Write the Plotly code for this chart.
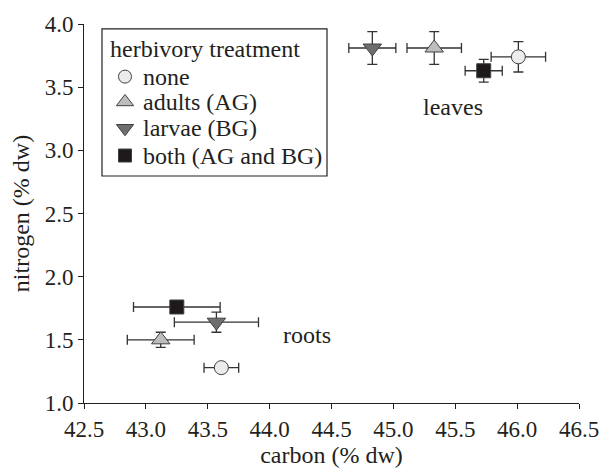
import plotly.graph_objects as go

# data: each treatment has [leaves, roots]
treatments = ["none", "adults (AG)", "larvae (BG)", "both (AG and BG)"]
carbon = {
    "none": [46.01, 43.61],
    "adults (AG)": [45.33, 43.12],
    "larvae (BG)": [44.83, 43.57],
    "both (AG and BG)": [45.73, 43.25],
}
carbon_err = {
    "none": [0.22, 0.14],
    "adults (AG)": [0.22, 0.27],
    "larvae (BG)": [0.19, 0.34],
    "both (AG and BG)": [0.15, 0.35],
}
nitrogen = {
    "none": [3.74, 1.28],
    "adults (AG)": [3.81, 1.50],
    "larvae (BG)": [3.81, 1.64],
    "both (AG and BG)": [3.63, 1.76],
}
nitrogen_err = {
    "none": [0.12, 0.02],
    "adults (AG)": [0.13, 0.06],
    "larvae (BG)": [0.13, 0.08],
    "both (AG and BG)": [0.09, 0.02],
}
x_ticks = [42.5, 43.0, 43.5, 44.0, 44.5, 45.0, 45.5, 46.0, 46.5]
y_ticks = [1.0, 1.5, 2.0, 2.5, 3.0, 3.5, 4.0]
legend_title = "herbivory treatment"

styles = {
    "none": dict(symbol="circle", color="#ececec", size=14),
    "adults (AG)": dict(symbol="triangle-up", color="#bdbdbd", size=16),
    "larvae (BG)": dict(symbol="triangle-down", color="#6e6e6e", size=16),
    "both (AG and BG)": dict(symbol="square", color="#1e1a1b", size=14),
}

FONT = "Liberation Serif"
TXT = "#231f20"
ERR = "#333333"
FS = 24

# plot area in pixels
L, R, T, B = 84, 579, 20, 409

fig = go.Figure()
for t in treatments:
    s = styles[t]
    fig.add_trace(go.Scatter(
        x=carbon[t], y=nitrogen[t], mode="markers", name=t, showlegend=False,
        marker=dict(symbol=s["symbol"], size=s["size"], color=s["color"], opacity=1,
                    line=dict(color="#404040", width=1)),
        error_x=dict(type="data", array=carbon_err[t], color=ERR, thickness=1.3, width=5),
        error_y=dict(type="data", array=nitrogen_err[t], color=ERR, thickness=1.3, width=5),
    ))

# manual legend on a pixel-scaled overlay axis
leg_left, leg_top, leg_right, leg_bottom = 102, 25, 327, 176
sym_x, txt_x = 125, 141
item_y = [74, 100, 127, 155]
fig.add_shape(type="rect", xref="x2", yref="y2", x0=leg_left, x1=leg_right,
              y0=leg_top, y1=leg_bottom, line=dict(color=TXT, width=1.2),
              fillcolor="rgba(0,0,0,0)", layer="below")
for t, yy in zip(treatments, item_y):
    s = styles[t]
    fig.add_trace(go.Scatter(
        x=[sym_x], y=[yy], xaxis="x2", yaxis="y2",
        mode="markers", showlegend=False, hoverinfo="skip", opacity=1,
        marker=dict(symbol=s["symbol"], size=s["size"] - 1, color=s["color"], opacity=1,
                    line=dict(color="#404040", width=1)),
    ))
fig.add_annotation(xref="x2", yref="y2", x=leg_left + 6, y=46, text=legend_title,
                   showarrow=False, xanchor="left", yanchor="middle",
                   font=dict(family=FONT, size=FS, color=TXT))
for t, yy in zip(treatments, item_y):
    fig.add_annotation(xref="x2", yref="y2", x=txt_x, y=yy, text=t,
                       showarrow=False, xanchor="left", yanchor="middle",
                       font=dict(family=FONT, size=FS, color=TXT))

fig.add_annotation(x=45.48, y=3.34, text="leaves", showarrow=False,
                   font=dict(family=FONT, size=FS, color=TXT))
fig.add_annotation(x=44.30, y=1.54, text="roots", showarrow=False,
                   font=dict(family=FONT, size=FS, color=TXT))

axis_common = dict(showline=True, linecolor="#231f20", linewidth=1, ticks="outside",
                   ticklen=5, tickcolor="#231f20", showgrid=False, zeroline=False,
                   tickfont=dict(family=FONT, size=23, color=TXT), mirror=False)

fig.update_xaxes(range=[42.5, 46.5], tickvals=x_ticks,
                 ticktext=[f"{v:.1f}" for v in x_ticks],
                 title=dict(text="carbon (% dw)", font=dict(family=FONT, size=FS, color=TXT), standoff=3),
                 **axis_common)
fig.update_yaxes(range=[1.0, 4.0], tickvals=y_ticks,
                 ticktext=[f"{v:.1f}" for v in y_ticks],
                 title=dict(text="nitrogen (% dw)", font=dict(family=FONT, size=FS, color=TXT), standoff=8),
                 **axis_common)

fig.update_layout(
    width=614, height=473,
    margin=dict(l=L, r=614 - R, t=T, b=473 - B),
    plot_bgcolor="white", paper_bgcolor="white",
    font=dict(family=FONT, size=FS, color=TXT),
    showlegend=False,
    xaxis2=dict(overlaying="x", range=[L, R], visible=False, fixedrange=True),
    yaxis2=dict(overlaying="y", range=[B, T], visible=False, fixedrange=True),
)

fig.write_html("out.html")
